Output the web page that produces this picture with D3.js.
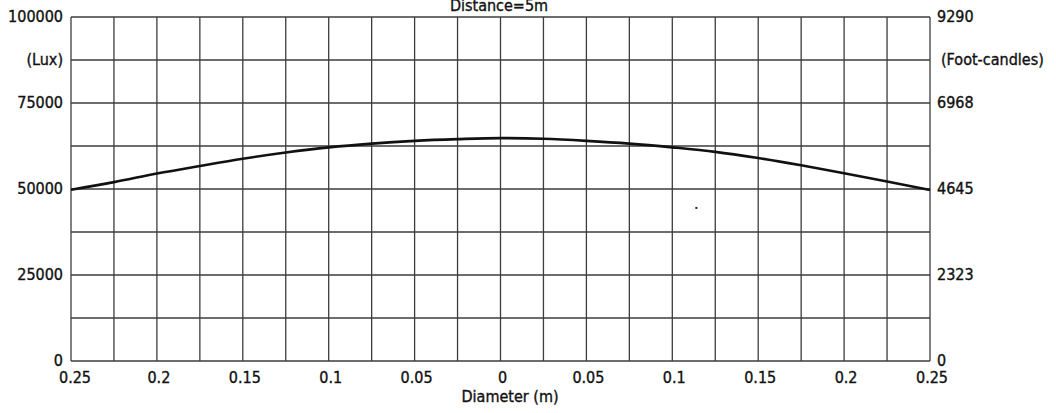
<!DOCTYPE html>
<html><head><meta charset="utf-8">
<script src="https://cdn.jsdelivr.net/npm/d3@7"></script>
<style>
html,body{margin:0;padding:0;background:#fff;}
svg text{font-family:"DejaVu Sans Condensed","DejaVu Sans",sans-serif;font-size:16px;fill:#111;stroke:#111;stroke-width:0.35px;}
</style></head>
<body><svg id="c" width="1056" height="413"></svg>
<script>
// Data
const diameters = [-0.25,-0.225,-0.2,-0.175,-0.15,-0.125,-0.1,-0.075,-0.05,-0.025,0,0.025,0.05,0.075,0.1,0.125,0.15,0.175,0.2,0.225,0.25];
const luxValues = [49800,52000,54500,56700,58800,60600,62100,63200,64000,64500,64800,64600,64000,63200,62100,60800,59000,56900,54600,52200,49700];
const xTickValues = [-0.25,-0.2,-0.15,-0.1,-0.05,0,0.05,0.1,0.15,0.2,0.25];
const leftTicks = [0,25000,50000,75000,100000];
const leftTickLabels = ["0","25000","50000","75000","100000"];
const rightTicks = [0,25000,50000,75000,100000];
const rightTickLabels = ["0","2323","4645","6968","9290"];
const strayPoint = [{x:0.114, y:44500}];
const title = "Distance=5m";
const xLabel = "Diameter (m)";
const leftUnit = "(Lux)";
const rightUnit = "(Foot-candles)";

const svg = d3.select("#c");
const L = 71, R = 930, T = 17, B = 361;
const x = d3.scaleLinear().domain([-0.25,0.25]).range([L,R]);
const y = d3.scaleLinear().domain([0,100000]).range([B,T]);

const grid = svg.append("g").attr("stroke","#3c3c3c").attr("stroke-width",1.3);
grid.selectAll("line.v").data(d3.range(-0.25,0.2501,0.025)).join("line")
  .attr("x1",d=>x(d)).attr("x2",d=>x(d)).attr("y1",T).attr("y2",B);
grid.selectAll("line.h").data(d3.range(0,100001,12500)).join("line")
  .attr("x1",L).attr("x2",R).attr("y1",d=>y(d)).attr("y2",d=>y(d));

// curve
const pts = diameters.map((d,i)=>({x:d,y:luxValues[i]}));
svg.append("path").datum(pts)
  .attr("fill","none").attr("stroke","#111").attr("stroke-width",2.6)
  .attr("d", d3.line().x(d=>x(d.x)).y(d=>y(d.y)).curve(d3.curveMonotoneX));

svg.selectAll("rect.stray").data(strayPoint).join("rect")
  .attr("x",d=>x(d.x)-1).attr("y",d=>y(d.y)-1).attr("width",2).attr("height",2).attr("fill","#222");

// left axis labels
svg.append("g").selectAll("text").data(leftTicks).join("text")
  .attr("x",L-8).attr("y",d=>y(d)-1).attr("dy","0.36em").attr("text-anchor","end")
  .text((d,i)=>leftTickLabels[i]);
svg.append("text").attr("x",L-8).attr("y",y(87500)-1).attr("dy","0.36em").attr("text-anchor","end").text(leftUnit);

// right axis labels
svg.append("g").selectAll("text").data(rightTicks).join("text")
  .attr("x",R+7).attr("y",d=>y(d)-1).attr("dy","0.36em").attr("text-anchor","start")
  .text((d,i)=>rightTickLabels[i]);
svg.append("text").attr("x",R+11).attr("y",y(87500)-1).attr("dy","0.36em").attr("text-anchor","start").text(rightUnit);

// bottom labels
const fmt = d => { const a = Math.abs(d); return a===0 ? "0" : String(+a.toFixed(3)); };
svg.append("g").selectAll("text").data(xTickValues).join("text")
  .attr("x",d=>x(d)+ (d===-0.25?4:2)).attr("y",B+22).attr("text-anchor","middle")
  .text(fmt);

svg.append("text").attr("x",510).attr("y",402).attr("text-anchor","middle").text(xLabel);
svg.append("text").attr("x",499).attr("y",11).attr("text-anchor","middle").text(title);
</script></body></html>
